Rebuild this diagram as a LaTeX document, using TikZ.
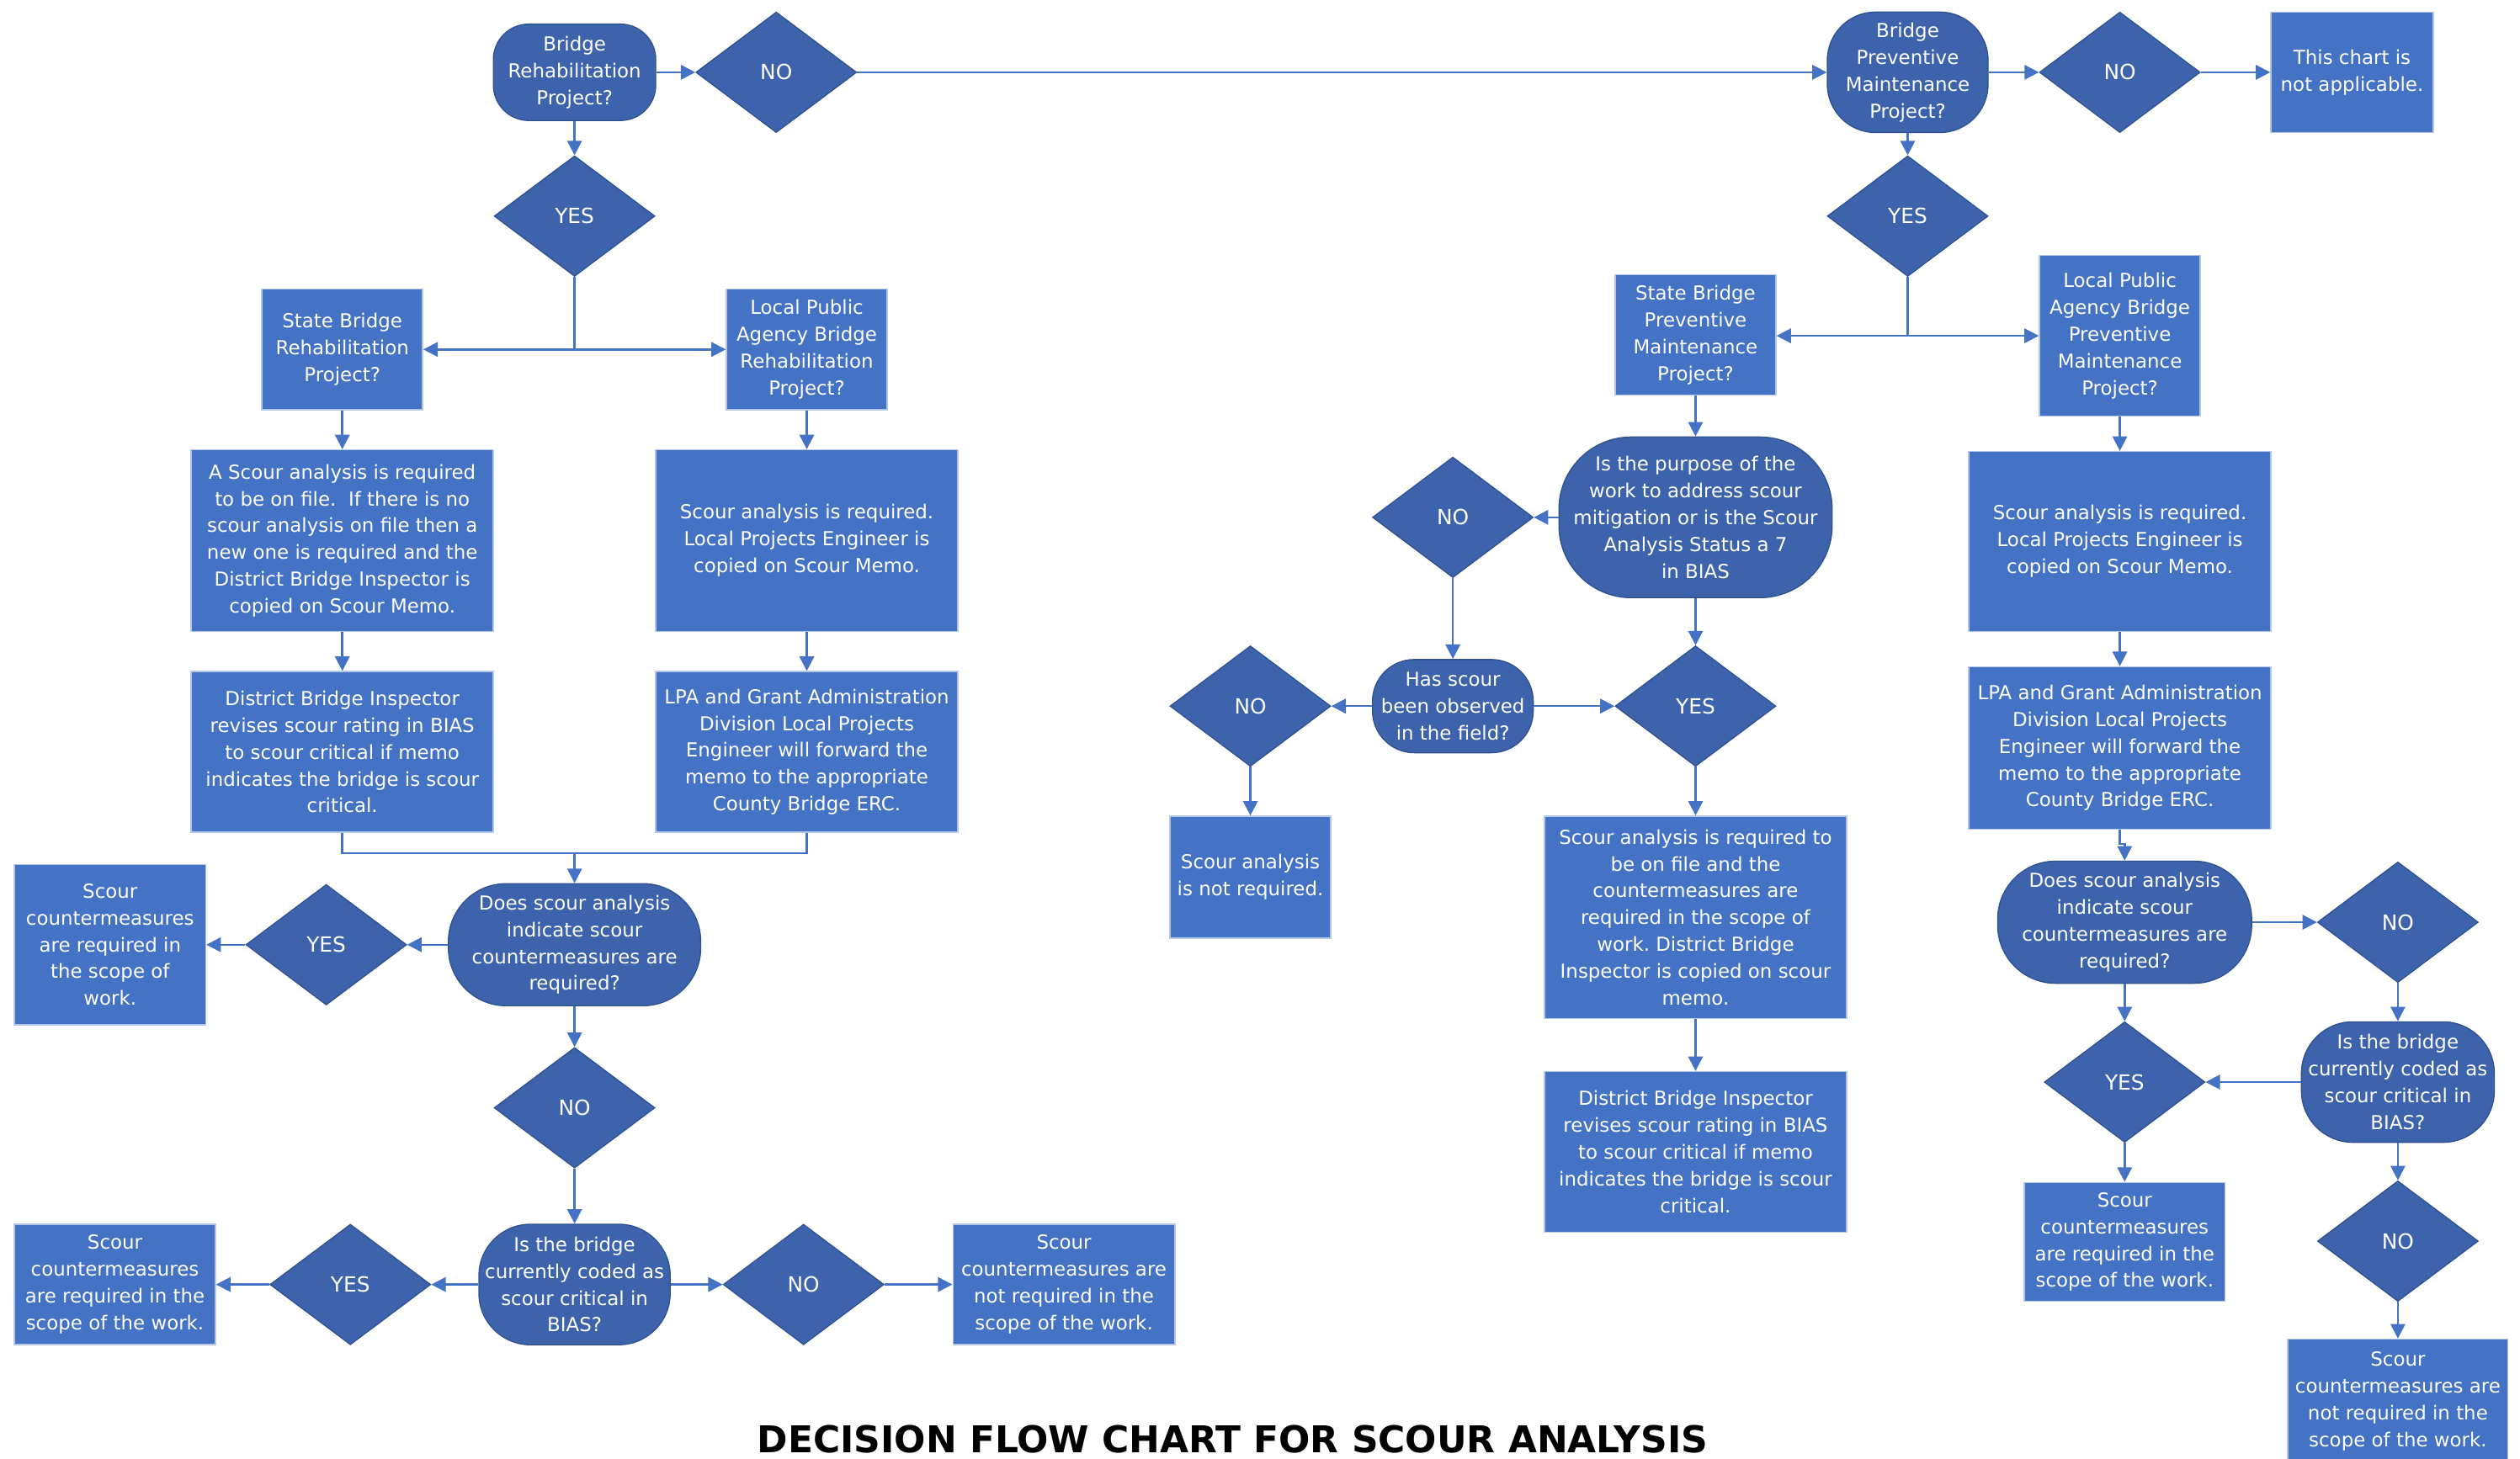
\documentclass[tikz,border=0pt]{standalone}
\usepackage{fontspec}
\setmainfont{DejaVu Sans}
\frenchspacing
\usetikzlibrary{shapes.geometric,arrows.meta}
\definecolor{boxblue}{HTML}{4472C4}
\definecolor{boxedge}{HTML}{B4C7E7}
\definecolor{diablue}{HTML}{3D63AD}
\definecolor{diaedge}{HTML}{2F528F}
\definecolor{lineblue}{HTML}{4472C4}
\tikzset{
  txt/.style={text=white,align=center,inner sep=0pt,font=\fontsize{12}{16.7}\selectfont},
  box/.style={txt,rectangle,fill=boxblue,draw=boxedge,line width=0.8pt},
  dia/.style={txt,diamond,fill=diablue,draw=diaedge,line width=0.7pt,minimum width=100pt,minimum height=75pt,font=\fontsize{13}{15}\selectfont},
  term/.style={txt,rectangle,fill=diablue,draw=diaedge,line width=0.7pt},
  ln/.style={draw=lineblue,line width=1.3pt},
  arr/.style={ln,-{Triangle[length=9pt,width=9pt]}},
}
\begin{document}
\begin{tikzpicture}[x=1pt,y=-1pt]
\useasboundingbox[fill=white] (0,0) rectangle (1568,908);

% ---------- left part ----------
\node[term,rounded corners=22pt,minimum width=101pt,minimum height=60pt] (BR) at (357.5,45) {Bridge\\Rehabilitation\\Project?};
\node[dia] (NO1) at (483,45) {NO};
\node[dia] (YES1) at (357.5,134.5) {YES};
\node[box,minimum width=100pt,minimum height=75pt] (SBR) at (213,217.5) {State Bridge\\Rehabilitation\\Project?};
\node[box,minimum width=100pt,minimum height=75pt] (LPA) at (502,217.5) {Local Public\\Agency Bridge\\Rehabilitation\\Project?};
\node[box,minimum width=188pt,minimum height=113pt] (A) at (213,336.5) {A Scour analysis is required\\to be on file.\ \ If there is no\\scour analysis on file then a\\new one is required and the\\District Bridge Inspector is\\copied on Scour Memo.};
\node[box,minimum width=188pt,minimum height=113pt] (B) at (502,336.5) {Scour analysis is required.\\Local Projects Engineer is\\copied on Scour Memo.};
\node[box,minimum width=188pt,minimum height=100pt] (C) at (213,468) {District Bridge Inspector\\revises scour rating in BIAS\\to scour critical if memo\\indicates the bridge is scour\\critical.};
\node[box,minimum width=188pt,minimum height=100pt] (D) at (502,468) {LPA and Grant Administration\\Division Local Projects\\Engineer will forward the\\memo to the appropriate\\County Bridge ERC.};
\node[term,rounded corners=36pt,minimum width=157pt,minimum height=76pt] (DQ1) at (357.5,588) {Does scour analysis\\indicate scour\\countermeasures are\\required?};
\node[dia] (YES2) at (203,588) {YES};
\node[box,minimum width=119pt,minimum height=100pt] (E) at (68.5,588) {Scour\\countermeasures\\are required in\\the scope of\\work.};
\node[dia] (NO2) at (357.5,689.5) {NO};
\node[term,rounded corners=32pt,minimum width=119pt,minimum height=75pt] (IQ1) at (357.5,799.5) {Is the bridge\\currently coded as\\scour critical in\\BIAS?};
\node[dia] (YES3) at (218,799.5) {YES};
\node[box,minimum width=125pt,minimum height=75pt] (F) at (71.5,799.5) {Scour\\countermeasures\\are required in the\\scope of the work.};
\node[dia] (NO3) at (500,799.5) {NO};
\node[box,minimum width=138pt,minimum height=75pt] (G) at (662,799.5) {Scour\\countermeasures are\\not required in the\\scope of the work.};

% ---------- right part ----------
\node[term,rounded corners=30pt,minimum width=100pt,minimum height=75pt] (BPM) at (1187,45) {Bridge\\Preventive\\Maintenance\\Project?};
\node[dia] (NO4) at (1319,45) {NO};
\node[box,minimum width=101pt,minimum height=75pt] (H) at (1463.5,45) {This chart is\\not applicable.};
\node[dia] (YES4) at (1187,134.5) {YES};
\node[box,minimum width=100pt,minimum height=75pt] (SBPM) at (1055,208.5) {State Bridge\\Preventive\\Maintenance\\Project?};
\node[box,minimum width=100pt,minimum height=100pt] (LPBPM) at (1319,209) {Local Public\\Agency Bridge\\Preventive\\Maintenance\\Project?};
\node[term,rounded corners=45pt,minimum width=170pt,minimum height=100pt] (PQ) at (1055,322) {Is the purpose of the\\work to address scour\\mitigation or is the Scour\\Analysis Status a 7\\in BIAS};
\node[dia] (NO5) at (904,322) {NO};
\node[term,rounded corners=26pt,minimum width=100pt,minimum height=58pt] (HQ) at (904,439.5) {Has scour\\been observed\\in the field?};
\node[dia] (YES5) at (1055,439.5) {YES};
\node[dia] (NO6) at (778,439.5) {NO};
\node[box,minimum width=100pt,minimum height=76pt] (I) at (778,546) {Scour analysis\\is not required.};
\node[box,minimum width=188pt,minimum height=126pt] (J) at (1055,571) {Scour analysis is required to\\be on file and the\\countermeasures are\\required in the scope of\\work. District Bridge\\Inspector is copied on scour\\memo.};
\node[box,minimum width=188pt,minimum height=100pt] (K) at (1055,717) {District Bridge Inspector\\revises scour rating in BIAS\\to scour critical if memo\\indicates the bridge is scour\\critical.};
\node[box,minimum width=188pt,minimum height=112pt] (L) at (1319,337) {Scour analysis is required.\\Local Projects Engineer is\\copied on Scour Memo.};
\node[box,minimum width=188pt,minimum height=101pt] (M) at (1319,465.5) {LPA and Grant Administration\\Division Local Projects\\Engineer will forward the\\memo to the appropriate\\County Bridge ERC.};
\node[term,rounded corners=36pt,minimum width=158pt,minimum height=76pt] (DQ2) at (1322,574) {Does scour analysis\\indicate scour\\countermeasures are\\required?};
\node[dia] (NO7) at (1492,574) {NO};
\node[dia] (YES6) at (1322,673.5) {YES};
\node[term,rounded corners=32pt,minimum width=120pt,minimum height=75pt] (IQ2) at (1492,673.5) {Is the bridge\\currently coded as\\scour critical in\\BIAS?};
\node[box,minimum width=125pt,minimum height=74pt] (N) at (1322,773) {Scour\\countermeasures\\are required in the\\scope of the work.};
\node[dia] (NO8) at (1492,772.5) {NO};
\node[box,minimum width=137pt,minimum height=77pt] (O) at (1492,872) {Scour\\countermeasures are\\not required in the\\scope of the work.};

% ---------- title ----------
\node[anchor=base,inner sep=0pt,font=\fontsize{23}{23}\selectfont\bfseries] (T) at (767,904) {DECISION FLOW CHART FOR SCOUR ANALYSIS};

% ---------- connectors left ----------
\draw[arr] (BR) -- (NO1);
\draw[arr] (NO1) -- (BPM);
\draw[arr] (BR) -- (YES1);
\coordinate (j1) at (357.5,217.5);
\draw[ln] (YES1.south) -- (j1);
\draw[arr] (j1) -- (SBR.east);
\draw[arr] (j1) -- (LPA.west);
\draw[arr] (SBR) -- (A);
\draw[arr] (A) -- (C);
\draw[arr] (LPA) -- (B);
\draw[arr] (B) -- (D);
\coordinate (j2) at (357.5,531);
\draw[ln] (C.south) |- (j2);
\draw[ln] (D.south) |- (j2);
\draw[arr] (j2) -- (DQ1.north);
\draw[arr] (DQ1) -- (YES2);
\draw[arr] (YES2) -- (E);
\draw[arr] (DQ1) -- (NO2);
\draw[arr] (NO2) -- (IQ1);
\draw[arr] (IQ1) -- (YES3);
\draw[arr] (YES3) -- (F);
\draw[arr] (IQ1) -- (NO3);
\draw[arr] (NO3) -- (G);

% ---------- connectors right ----------
\draw[arr] (BPM) -- (NO4);
\draw[arr] (NO4) -- (H);
\draw[arr] (BPM) -- (YES4);
\coordinate (j3) at (1187,209);
\draw[ln] (YES4.south) -- (j3);
\draw[arr] (j3) -- (SBPM.east |- j3);
\draw[arr] (j3) -- (LPBPM.west);
\draw[arr] (SBPM) -- (PQ);
\draw[arr] (PQ) -- (NO5);
\draw[arr] (NO5) -- (HQ);
\draw[arr] (PQ) -- (YES5);
\draw[arr] (HQ) -- (YES5);
\draw[arr] (HQ) -- (NO6);
\draw[arr] (NO6) -- (I);
\draw[arr] (YES5) -- (J);
\draw[arr] (J) -- (K);
\draw[arr] (LPBPM) -- (L);
\draw[arr] (L) -- (M);
\draw[arr] (M.south) -- ++(0,9) -| (DQ2.north);
\draw[arr] (DQ2) -- (NO7);
\draw[arr] (DQ2) -- (YES6);
\draw[arr] (NO7) -- (IQ2);
\draw[arr] (IQ2) -- (YES6);
\draw[arr] (YES6) -- (N);
\draw[arr] (IQ2) -- (NO8);
\draw[arr] (NO8) -- (O);
\end{tikzpicture}
\end{document}
